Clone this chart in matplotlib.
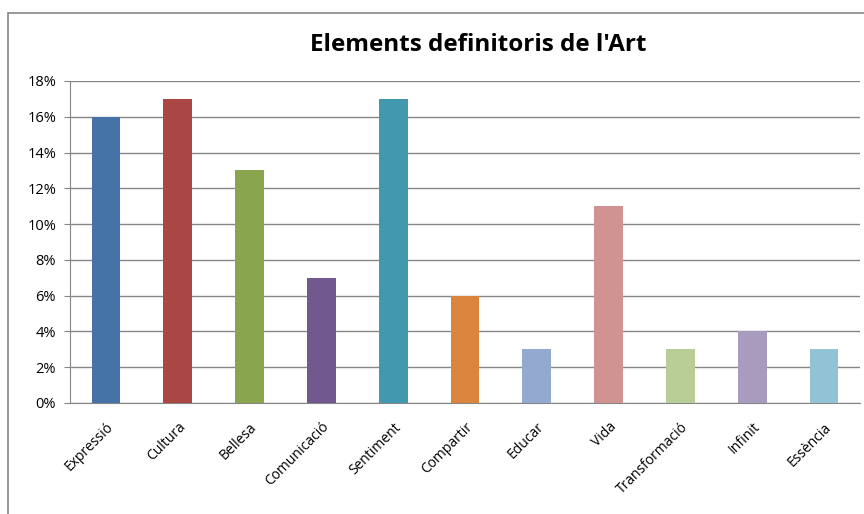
import matplotlib.pyplot as plt
from matplotlib.patches import Rectangle
from matplotlib.ticker import PercentFormatter

categories = ["Expressió", "Cultura", "Bellesa", "Comunicació", "Sentiment", "Compartir",
              "Educar", "Vida", "Transformació", "Infinit", "Essència"]
values = [16, 17, 13, 7, 17, 6, 3, 11, 3, 4, 3]
colors = ["#4572A7", "#AA4643", "#89A54E", "#71588F", "#4198AF", "#DB843D",
          "#93A9CF", "#D19392", "#B9CD96", "#A99BBD", "#92C3D5"]
yticks = [0, 2, 4, 6, 8, 10, 12, 14, 16, 18]

plt.rcParams['font.family'] = ['Open Sans', 'DejaVu Sans']

fig = plt.figure(figsize=(8.64, 5.14), dpi=100)
ax = fig.add_axes([70 / 864, 1 - 403 / 514, 790 / 864, 322 / 514])

# chart frame like excel
fig.patches.append(Rectangle((8 / 864, -0.1), 1.2, 1 - 13 / 514 + 0.1, transform=fig.transFigure,
                             fill=False, edgecolor="#868686", linewidth=1.2))

x = range(len(categories))
ax.bar(x, values, width=0.4, color=colors, zorder=3)

ax.set_xlim(-0.5, len(categories) - 0.5)
ax.set_ylim(0, 18)
ax.set_yticks(yticks)
ax.yaxis.set_major_formatter(PercentFormatter(decimals=0))
ax.grid(True, axis="y", color="#868686", linewidth=1, zorder=0)

ax.set_xticks(list(x))
ax.set_xticklabels(categories, rotation=45, ha="right", rotation_mode="anchor", fontsize=10)
ax.tick_params(axis="x", length=0, pad=12)
ax.tick_params(axis="y", length=4, color="#868686", labelsize=10.5, pad=6)

for s in ["top", "right"]:
    ax.spines[s].set_visible(False)
ax.spines["left"].set_color("#868686")
ax.spines["bottom"].set_color("#868686")

fig.text(478 / 864, 1 - 45 / 514, "Elements definitoris de l'Art", ha="center", va="center",
         fontsize=17.5, fontweight="bold")

plt.savefig("out.png", dpi=100)
